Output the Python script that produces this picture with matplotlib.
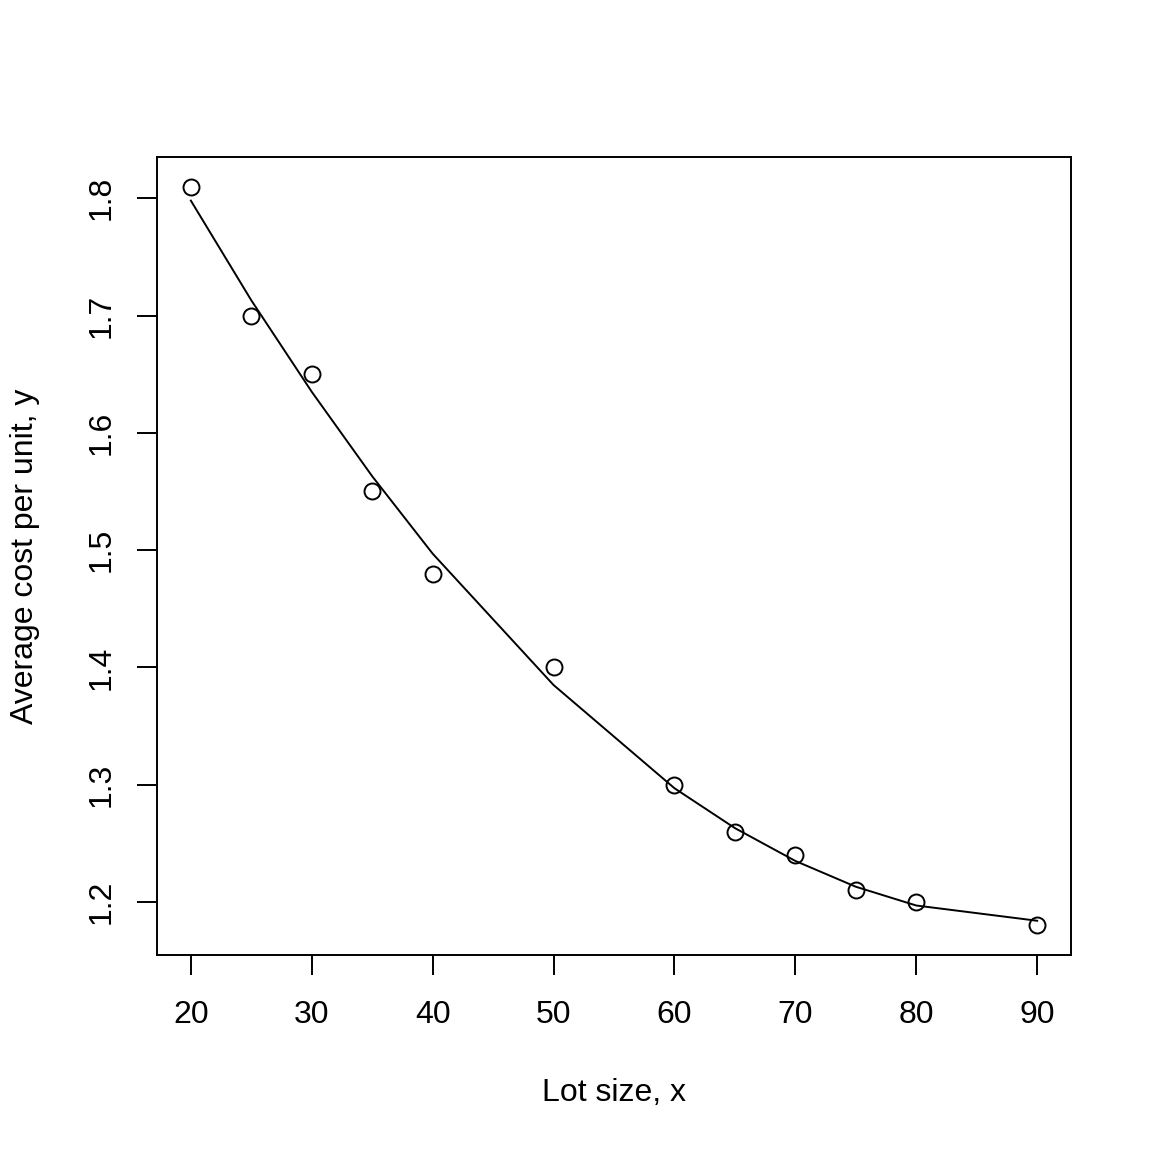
import matplotlib
matplotlib.use("Agg")
import matplotlib.pyplot as plt

lot_size = [20, 25, 30, 35, 40, 50, 60, 65, 70, 75, 80, 90]
avg_cost = [1.81, 1.70, 1.65, 1.55, 1.48, 1.40, 1.30, 1.26, 1.24, 1.21, 1.20, 1.18]
fitted = [1.798, 1.713, 1.635, 1.563, 1.497, 1.385, 1.297, 1.263, 1.235, 1.213, 1.197, 1.184]
x_ticks = [20, 30, 40, 50, 60, 70, 80, 90]
y_ticks = [1.2, 1.3, 1.4, 1.5, 1.6, 1.7, 1.8]

plt.rcParams['font.family'] = ['Liberation Sans', 'DejaVu Sans']
fig = plt.figure(figsize=(11.52, 11.52), dpi=100)
ax = fig.add_axes([157/1152, 1-955/1152, (1071-157)/1152, (955-157)/1152])

ax.plot(lot_size, fitted, color='black', lw=1.4)
ax.plot(lot_size, avg_cost, 'o', mfc='none', mec='black', ms=11.5, mew=1.4)

ax.set_xlim(17.2, 92.8)
ax.set_ylim(1.1548, 1.8352)
ax.set_xticks(x_ticks)
ax.set_yticks(y_ticks)
ax.set_xticklabels([str(v) for v in x_ticks])
ax.set_yticklabels([f"{v:.1f}" for v in y_ticks], rotation=90, va='center')
ax.tick_params(direction='out', length=14.4, width=1.4, labelsize=23)
ax.tick_params(axis='x', pad=18)
ax.tick_params(axis='y', pad=15)
for s in ax.spines.values():
    s.set_linewidth(1.4)

ax.set_xlabel("Lot size, x", fontsize=23, va='center')
ax.set_ylabel("Average cost per unit, y", fontsize=23, va='center')
ax.xaxis.set_label_coords(0.5, (955-1093)/798)
ax.yaxis.set_label_coords((25-157)/914, 0.5)

fig.savefig("out.png", dpi=100)
